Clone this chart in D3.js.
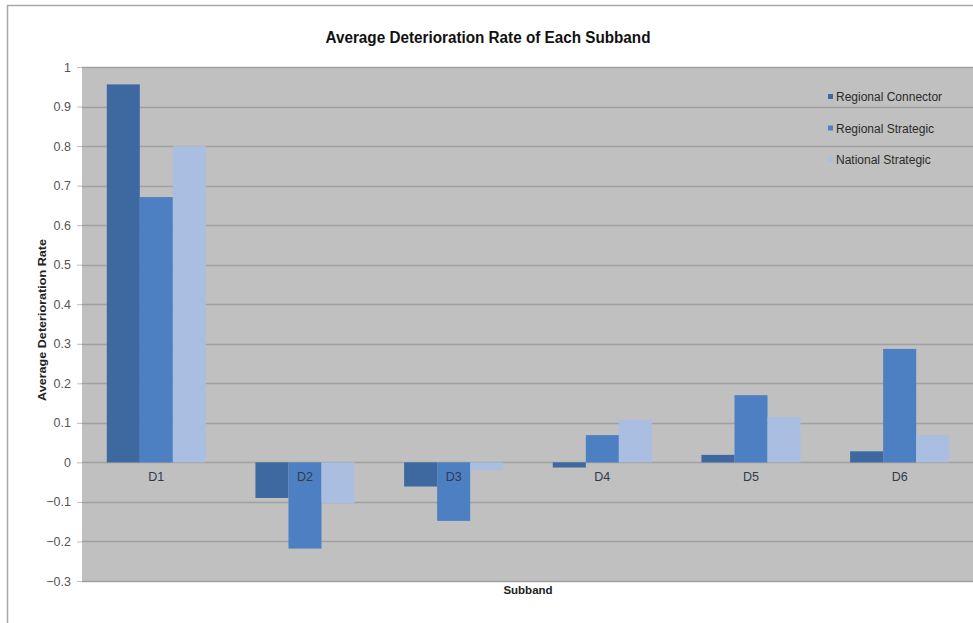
<!DOCTYPE html>
<html>
<head>
<meta charset="utf-8">
<script src="https://cdn.jsdelivr.net/npm/d3@7"></script>
<style>
  html, body { margin: 0; padding: 0; background: #ffffff; }
  svg { display: block; font-family: "Liberation Sans", Arial, sans-serif; }
</style>
</head>
<body>
<svg id="chart" width="973" height="623"></svg>
<script>
// Subband categories and the three road classes
const categories = ["D1", "D2", "D3", "D4", "D5", "D6"];
const seriesNames = ["Regional Connector", "Regional Strategic", "National Strategic"];
const regionalConnector = [0.956, -0.090, -0.061, -0.013, 0.019, 0.028];
const regionalStrategic = [0.671, -0.218, -0.148, 0.069, 0.170, 0.287];
const nationalStrategic = [0.800, -0.103, -0.020, 0.108, 0.115, 0.069];
const yTicks = [1, 0.9, 0.8, 0.7, 0.6, 0.5, 0.4, 0.3, 0.2, 0.1, 0, -0.1, -0.2, -0.3];
const seriesColors = ["#3e68a0", "#4c80c2", "#a9bee0"];

const seriesValues = [regionalConnector, regionalStrategic, nationalStrategic];
const rows = categories.map((c, i) => ({
  cat: c,
  vals: seriesNames.map((s, j) => ({ series: s, idx: j, v: seriesValues[j][i] }))
}));

const svg = d3.select("#chart");
const plot = { left: 82, right: 974, top: 67, bottom: 581 };

// outer chart frame (top and left edges visible)
svg.append("line").attr("x1", 7).attr("x2", 973).attr("y1", 5.5).attr("y2", 5.5)
  .attr("stroke", "#a9a9a9").attr("stroke-width", 1.5);
svg.append("line").attr("x1", 7.5).attr("x2", 7.5).attr("y1", 5).attr("y2", 623)
  .attr("stroke", "#a9a9a9").attr("stroke-width", 1.5);

const x0 = d3.scaleBand().domain(categories).range([plot.left, plot.right]).padding(0);
const x1 = d3.scaleBand().domain(d3.range(seriesNames.length))
  .range([x0.bandwidth() * 0.75 / 4.5, x0.bandwidth() * 3.75 / 4.5]).padding(0);
const y = d3.scaleLinear().domain([-0.3, 1]).range([plot.bottom, plot.top]);

// plot background
svg.append("rect")
  .attr("x", plot.left).attr("y", plot.top)
  .attr("width", plot.right - plot.left).attr("height", plot.bottom - plot.top)
  .attr("fill", "#c0c0c0");

// horizontal gridlines
svg.append("g").selectAll("line").data(yTicks).join("line")
  .attr("x1", plot.left).attr("x2", plot.right)
  .attr("y1", d => Math.round(y(d)) + 0.5).attr("y2", d => Math.round(y(d)) + 0.5)
  .attr("stroke", "#a0a0a0").attr("stroke-width", 1.3);

// y axis ticks and labels
const yAxis = d3.axisLeft(y).tickValues(yTicks).tickSize(5).tickPadding(6)
  .tickFormat(d => d3.format("")(Math.round(d * 10) / 10));
const gy = svg.append("g").attr("transform", `translate(${plot.left},0)`).call(yAxis);
gy.select(".domain").remove();
gy.selectAll(".tick line").attr("stroke", "#bdbdbd");
gy.selectAll(".tick text").attr("fill", "#555").attr("font-size", 12.5)
  .attr("font-family", "'Liberation Sans', Arial, sans-serif");

// bars
const groups = svg.append("g").selectAll("g").data(rows).join("g")
  .attr("transform", d => `translate(${x0(d.cat)},0)`);
groups.selectAll("rect").data(d => d.vals).join("rect")
  .attr("x", d => x1(d.idx))
  .attr("width", x1.bandwidth())
  .attr("y", d => y(Math.max(0, d.v)))
  .attr("height", d => Math.abs(y(d.v) - y(0)))
  .attr("fill", d => seriesColors[d.idx]);

// category labels sit at the zero line, over the bars
svg.append("g").selectAll("text").data(categories).join("text")
  .attr("x", d => x0(d) + x0.bandwidth() / 2)
  .attr("y", y(0) + 18.5)
  .attr("text-anchor", "middle")
  .attr("font-size", 12.5)
  .attr("fill", "#2f3b4c")
  .text(d => d);

// title
svg.append("text")
  .attr("x", 488).attr("y", 43)
  .attr("text-anchor", "middle")
  .attr("font-size", 16).attr("font-weight", "bold")
  .attr("fill", "#111")
  .attr("textLength", 325).attr("lengthAdjust", "spacingAndGlyphs")
  .text("Average Deterioration Rate of Each Subband");

// axis titles
svg.append("text")
  .attr("x", (plot.left + plot.right) / 2).attr("y", 594)
  .attr("text-anchor", "middle")
  .attr("font-size", 11.5).attr("font-weight", "bold").attr("fill", "#222")
  .text("Subband");

svg.append("text")
  .attr("transform", `translate(46,320) rotate(-90)`)
  .attr("text-anchor", "middle")
  .attr("font-size", 11.5).attr("font-weight", "bold").attr("fill", "#222")
  .attr("textLength", 162).attr("lengthAdjust", "spacingAndGlyphs")
  .text("Average Deterioration Rate");

// legend
const legend = svg.append("g").selectAll("g").data(seriesNames).join("g")
  .attr("transform", (d, i) => `translate(828,${97 + i * 31.5})`);
legend.append("rect")
  .attr("x", 0).attr("y", -3).attr("width", 5).attr("height", 5)
  .attr("fill", (d, i) => seriesColors[i]);
legend.append("text")
  .attr("x", 8).attr("y", 4)
  .attr("font-size", 12).attr("fill", "#2a2a2a")
  .text(d => d);
</script>
</body>
</html>
